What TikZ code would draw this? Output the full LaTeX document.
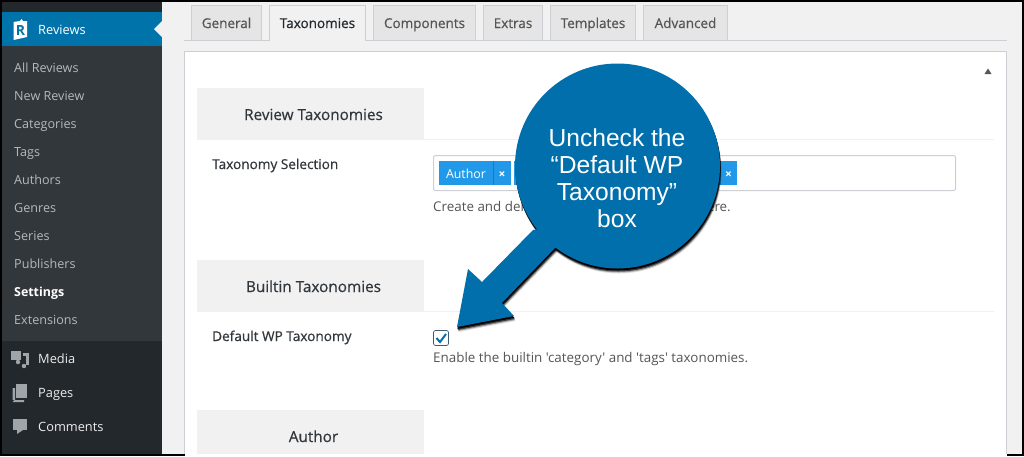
\documentclass[tikz,border=0pt]{standalone}
\usepackage{fontspec}
\setmainfont{Open Sans}[Ligatures=TeXOff]
\newfontfamily\semifont[FakeBold=0.6]{Open Sans}
\newfontfamily\calloutfont{Liberation Sans}
\definecolor{wpblue}{HTML}{0073AA}
\definecolor{calloutblue}{HTML}{006FAB}
\definecolor{chipblue}{HTML}{2199E8}
\definecolor{menudark}{HTML}{23282D}
\definecolor{menumid}{HTML}{32373C}
\definecolor{menutext}{HTML}{B4B9BE}
\definecolor{pagegrey}{HTML}{F1F1F1}
\definecolor{tabgrey}{HTML}{E5E5E5}
\definecolor{edgegrey}{HTML}{CCD0D4}
\definecolor{bodytext}{HTML}{555555}
\definecolor{headtext}{HTML}{32373C}
\definecolor{iconaccent}{HTML}{A0A5AA}
\newcommand{\calloutshape}[1]{%
  \fill[#1] (617.5,166) circle (102.5);
  \fill[#1] (533,230) -- (482,282) -- (468,269) -- (457,327) -- (514,316) -- (502,303) -- (556,247) -- (600,220) -- cycle;
}
\tikzset{
  menuitem/.style={anchor=base west,inner sep=0,font=\fontsize{12.6}{14}\selectfont,text=menutext},
  topitem/.style={anchor=base west,inner sep=0,font=\fontsize{12.8}{14}\selectfont,text=white!93!black},
  tabbox/.style={draw=edgegrey,fill=tabgrey,line width=0.8},
  tablabel/.style={anchor=base,inner sep=0,font=\semifont\fontsize{13.5}{14}\selectfont,text=bodytext},
  headbox/.style={fill=pagegrey},
  headlabel/.style={anchor=base,inner sep=0,font=\semifont\fontsize{15.3}{16}\selectfont,text=headtext},
  fieldlabel/.style={anchor=base west,inner sep=0,font=\semifont\fontsize{13.6}{14}\selectfont,text=headtext},
  helptext/.style={anchor=base west,inner sep=0,font=\fontsize{13.4}{14}\selectfont,text=bodytext},
  rule/.style={draw=pagegrey,line width=1.4},
  icon/.style={fill=iconaccent}
}
\begin{document}
\begin{tikzpicture}[x=1pt,y=-1pt]
  \useasboundingbox (0,0) rectangle (1024,456);
  \fill[black] (0,0) rectangle (1024,456);
  \fill[pagegrey] (2,2) rectangle (1022,454);
  % admin menu
  \fill[menudark] (2,2) rectangle (162,454);
  \fill[wpblue] (2,12) rectangle (162,46);
  \fill[menumid] (2,46) rectangle (162,341);
  \fill[pagegrey] (162,21) -- (154,29) -- (162,37) -- cycle;
  % menu icons
  \fill[white] (13.5,22) -- (20,21) -- (21.5,19) -- (23,21) -- (27,21) -- (27,37) -- (13.5,40) -- cycle;
  \node[inner sep=0,font=\bfseries\fontsize{14}{14}\selectfont,text=wpblue] (logo) at (20.5,30.5) {R};
  \fill[icon] (11,351) rectangle (21,360);
  \fill[icon] (23,353) rectangle (29,356);
  \fill[icon] (26,356) rectangle (29,365);
  \fill[icon] (18,362) circle (2.2) (24,366) circle (2.2);
  \fill[icon] (16,384) rectangle (27,398);
  \fill[icon] (12.5,388) rectangle (15,400) -- (24,400) -- (24,402) -- (12.5,402) -- cycle;
  \fill[icon] (13,419) rectangle (27,430);
  \fill[icon] (17,430) -- (23,430) -- (17,434) -- cycle;
  \path
    (38,34) node[topitem,text=white] (reviews){Reviews}
    (14,72) node[menuitem] (allreviews){All Reviews}
    (14,100) node[menuitem] (newreview){New Review}
    (14,128) node[menuitem] (categories){Categories}
    (14,156) node[menuitem] (tags){Tags}
    (14,184) node[menuitem] (authors){Authors}
    (14,212) node[menuitem] (genres){Genres}
    (14,240) node[menuitem] (series){Series}
    (14,268) node[menuitem] (publishers){Publishers}
    (14,296) node[menuitem,text=white,font=\bfseries\fontsize{12.4}{14}\selectfont] (settings){Settings}
    (14,324) node[menuitem] (extensions){Extensions}
    (38,363) node[topitem] (media){Media}
    (38,397) node[topitem] (pages){Pages}
    (38,431) node[topitem] (comments){Comments};
  % tabs
  \draw[edgegrey,line width=0.8] (184,40.5) -- (1007,40.5);
  \draw[tabbox] (191.5,40.5) rectangle (261.5,5.5);
  \draw[draw=edgegrey,fill=pagegrey,line width=0.8] (269.5,41) -- (269.5,5.5) -- (365.5,5.5) -- (365.5,41);
  \draw[tabbox] (373.5,40.5) rectangle (475.5,5.5);
  \draw[tabbox] (483.5,40.5) rectangle (542.5,5.5);
  \draw[tabbox] (550.5,40.5) rectangle (635.5,5.5);
  \draw[tabbox] (643.5,40.5) rectangle (727.5,5.5);
  \path
    (226.5,28) node[tablabel] (general){General}
    (317.5,28) node[tablabel,text=menudark] (taxonomies){Taxonomies}
    (424.5,28) node[tablabel] (components){Components}
    (513,28) node[tablabel] (extras){Extras}
    (593,28) node[tablabel] (templates){Templates}
    (685.5,28) node[tablabel] (advanced){Advanced};
  % panel
  \fill[white] (184.5,51.5) rectangle (1006.5,456);
  \draw[edgegrey,line width=1] (184.5,454) -- (184.5,51.5) -- (1006.5,51.5) -- (1006.5,454);
  \fill[headtext!70!iconaccent] (984.5,74) -- (988,68.5) -- (991.5,74) -- cycle;
  \fill[headbox] (197,88) rectangle (424,140);
  \fill[headbox] (197,260) rectangle (424,312);
  \fill[headbox] (197,410) rectangle (424,454);
  \draw[rule] (197,139.5) -- (994,139.5);
  \draw[rule] (197,311.5) -- (994,311.5);
  \path
    (313.5,120) node[headlabel] (reviewhead){Review Taxonomies}
    (313.5,292) node[headlabel] (builtinhead){Builtin Taxonomies}
    (313.5,442) node[headlabel] (authorhead){Author}
    (212,169) node[fieldlabel] (selectionlabel){Taxonomy Selection}
    (212,341) node[fieldlabel] (defaultlabel){Default WP Taxonomy};
  % taxonomy selection field
  \draw[edgegrey,line width=1,rounded corners=2] (433.5,155.5) rectangle (955.5,190.5);
  \fill[chipblue] (439,161) rectangle (511,185);
  \fill[chipblue] (514,161) rectangle (737,185);
  \draw[wpblue!60!chipblue,line width=0.8] (493.5,161) -- (493.5,185);
  \draw[wpblue!60!chipblue,line width=0.8] (720.5,161) -- (720.5,185);
  \path
    (466,178) node[anchor=base,inner sep=0,font=\fontsize{12.4}{14}\selectfont,text=white] (authorchip){Author}
    (502,175) node[inner sep=0,font=\bfseries\fontsize{12}{12}\selectfont,text=white] (authorclose){×}
    (728.5,175) node[inner sep=0,font=\bfseries\fontsize{12}{12}\selectfont,text=white] (lastclose){×}
    (433,211) node[helptext] (createhelp){Create and delete}
    (731,211) node[helptext,anchor=base east] (herehelp){here.};
  % checkbox
  \draw[draw=bodytext!70!wpblue,fill=white,line width=0.7,rounded corners=2] (433.5,330.5) rectangle (448.5,345.5);
  \draw[wpblue,line width=2] (436.5,338) -- (440,342) -- (446,334);
  \path (433,362) node[helptext] (enablehelp){Enable the builtin 'category' and 'tags' taxonomies.};
  % callout and its shadow
  \begin{scope}[shift={(1.5,5)},opacity=0.12]\calloutshape{black}\end{scope}
  \begin{scope}[shift={(1.2,4)},opacity=0.3]\calloutshape{black}\end{scope}
  \begin{scope}[shift={(0.8,3)},opacity=0.6]\calloutshape{black}\end{scope}
  \begin{scope}[shift={(0.4,1.8)}]\calloutshape{black}\end{scope}
  \calloutshape{calloutblue}
  \path
    (617,146) node[anchor=base,inner sep=0,font=\calloutfont\fontsize{24.6}{27}\selectfont,text=white] (calloutone){Uncheck the}
    (617,173) node[anchor=base,inner sep=0,font=\calloutfont\fontsize{24.6}{27}\selectfont,text=white] (callouttwo){“Default WP}
    (617,200) node[anchor=base,inner sep=0,font=\calloutfont\fontsize{24.6}{27}\selectfont,text=white] (calloutthree){Taxonomy”}
    (617,227) node[anchor=base,inner sep=0,font=\calloutfont\fontsize{24.6}{27}\selectfont,text=white] (calloutfour){box};
\end{tikzpicture}
\end{document}
